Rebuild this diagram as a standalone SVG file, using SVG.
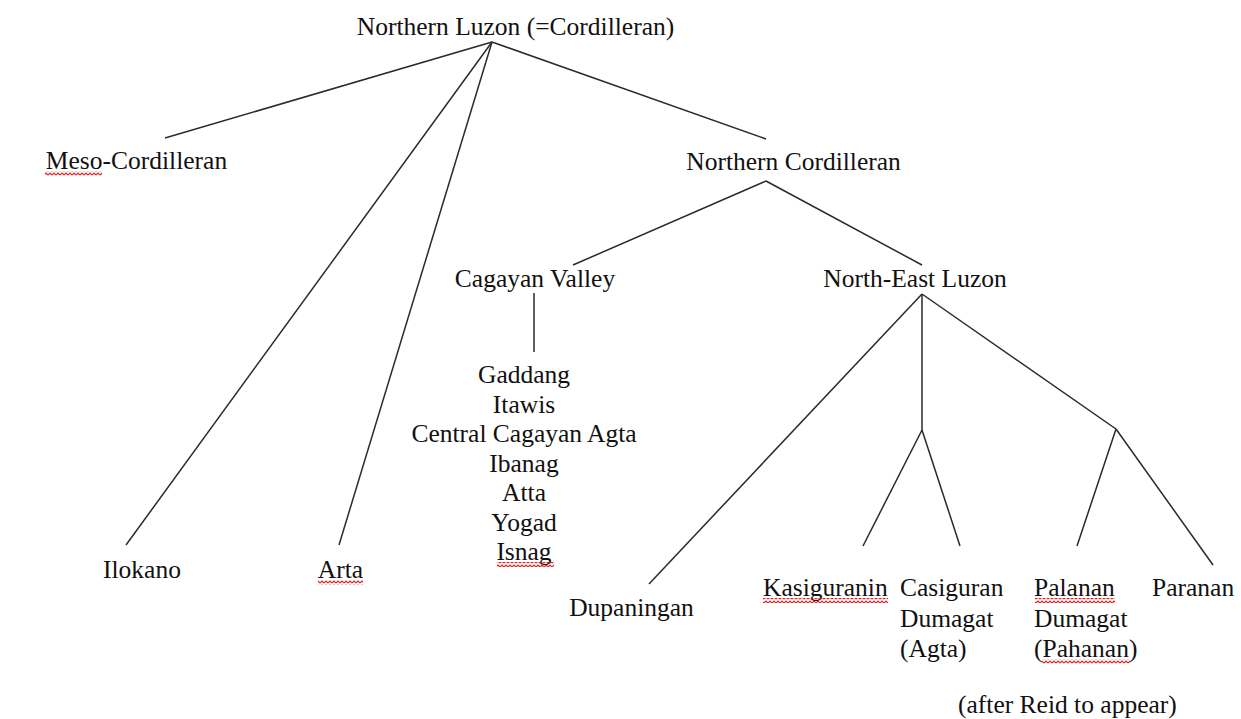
<svg xmlns="http://www.w3.org/2000/svg" width="1241" height="719" viewBox="0 0 1241 719">
<style>
text{font-family:"Liberation Serif","Times New Roman",serif;font-size:25.5px;fill:#111}
.c{text-anchor:middle}
.e line{stroke:#2a2a2a;stroke-width:1.5;fill:none}
.sq{fill:url(#wave)}
</style>
<defs>
<pattern id="wave" x="0" y="0" width="4" height="4" patternUnits="userSpaceOnUse">
<path d="M0 3 L2 1 L4 3" fill="none" stroke="#e02020" stroke-width="1.2"/>
</pattern>
</defs>
<rect width="1241" height="719" fill="#fff"/>
<g id="connectors" class="e">
<line x1="492" y1="42" x2="165" y2="138"/>
<line x1="492" y1="42" x2="766" y2="139"/>
<line x1="492" y1="42" x2="126" y2="545"/>
<line x1="492" y1="42" x2="339" y2="545"/>
<line x1="766" y1="181" x2="573" y2="265"/>
<line x1="766" y1="181" x2="922" y2="265"/>
<line x1="534" y1="293" x2="534" y2="352"/>
<line x1="922" y1="294" x2="649" y2="584"/>
<line x1="922" y1="294" x2="922" y2="430"/>
<line x1="922" y1="294" x2="1116" y2="429"/>
<line x1="922" y1="430" x2="863" y2="546"/>
<line x1="922" y1="430" x2="960" y2="546"/>
<line x1="1116" y1="429" x2="1077" y2="546"/>
<line x1="1116" y1="429" x2="1213" y2="565"/>
</g>
<g id="root"><text class="c" x="515.5" y="35">Northern Luzon (=Cordilleran)</text></g>
<g id="meso"><text class="c" x="136.5" y="169">Meso-Cordilleran</text><rect class="sq" x="45" y="171" width="57" height="5"/></g>
<g id="northern-cordilleran"><text class="c" x="793.5" y="170">Northern Cordilleran</text></g>
<g id="cagayan-valley"><text class="c" x="535" y="287">Cagayan Valley</text></g>
<g id="north-east-luzon"><text class="c" x="915" y="287">North-East Luzon</text></g>
<g id="cagayan-list">
<text class="c" x="524" y="383">Gaddang</text>
<text class="c" x="524" y="412.5">Itawis</text>
<text class="c" x="524" y="442">Central Cagayan Agta</text>
<text class="c" x="524" y="471.5">Ibanag</text>
<text class="c" x="524" y="501">Atta</text>
<text class="c" x="524" y="530.5">Yogad</text>
<text class="c" x="524" y="560">Isnag</text>
<rect class="sq" x="497" y="562" width="57" height="5"/>
</g>
<g id="ilokano"><text class="c" x="142" y="578">Ilokano</text></g>
<g id="arta"><text class="c" x="340.5" y="578">Arta</text><rect class="sq" x="318" y="580" width="45" height="5"/></g>
<g id="dupaningan"><text class="c" x="631.5" y="616">Dupaningan</text></g>
<g id="kasiguranin"><text x="763" y="596">Kasiguranin</text><rect class="sq" x="763" y="598" width="125" height="5"/></g>
<g id="casiguran-dumagat">
<text x="900" y="596">Casiguran</text>
<text x="900" y="626.5">Dumagat</text>
<text x="900" y="657">(Agta)</text>
</g>
<g id="palanan-dumagat">
<text x="1034" y="596">Palanan</text>
<text x="1034" y="626.5">Dumagat</text>
<text x="1034" y="657">(Pahanan)</text>
<rect class="sq" x="1035" y="598" width="80" height="5"/>
<rect class="sq" x="1042" y="659" width="88" height="5"/>
</g>
<g id="paranan"><text x="1152" y="596">Paranan</text></g>
<g id="source"><text x="958" y="713">(after Reid to appear)</text></g>
</svg>
